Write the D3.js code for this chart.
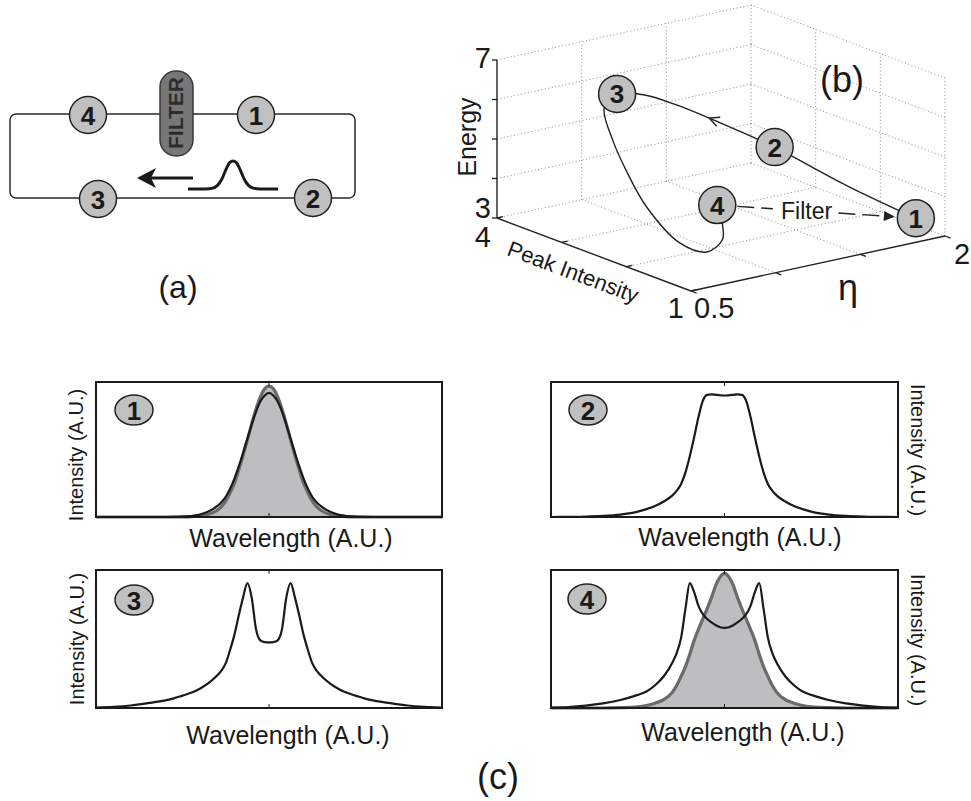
<!DOCTYPE html>
<html>
<head>
<meta charset="utf-8">
<script src="https://cdn.jsdelivr.net/npm/d3@7"></script>
<style>
  body { margin: 0; background: #fff; }
  svg { display: block; }
  text { font-family: 'Liberation Sans', Arial, sans-serif; }
</style>
</head>
<body>
<svg id="fig" width="971" height="801"></svg>
<script>
// ---------- data ----------
// (a) pulse sketched inside the cavity
var pulseT = [-1, -0.6, -0.45, -0.35, -0.25, -0.15, -0.07, 0, 0.07, 0.15, 0.25, 0.35, 0.45, 0.6, 1]
var pulseA = [0, 0, 0.03, 0.12, 0.35, 0.72, 0.95, 1, 0.95, 0.72, 0.35, 0.12, 0.03, 0, 0]

// (b) round trip trajectory: eta, peak intensity, energy
var trajEta = [1.95, 1.70, 1.46, 1.29, 1.15, 1.04, 0.92, 0.77, 0.66, 0.61, 0.61, 0.62, 0.72, 0.85, 1.01, 1.05, 1.14]
var trajPI  = [1.32, 1.72, 2.22, 2.32, 2.42, 2.67, 2.82, 2.85, 2.76, 2.50, 2.27, 2.00, 1.75, 1.67, 1.85, 1.95, 2.27]
var trajEn  = [3.3, 4.1, 5.0, 5.5, 5.9, 6.2, 6.45, 6.6, 6.4, 5.8, 5.1, 4.4, 3.55, 3.25, 3.3, 3.55, 3.8]
var stations   = ['1', '2', '3', '4']
var stationEta = [1.95, 1.46, 0.77, 1.14]
var stationPI  = [1.32, 2.22, 2.85, 2.27]
var stationEn  = [3.3, 5.0, 6.6, 3.8]
var etaTicks = [0.5, 1, 1.5, 2]
var piTicks = [1, 2, 3, 4]
var enTicks = [3, 4, 5, 6, 7]

// (c) spectra, wavelength in A.U. (centre = 0)
var wl = [-1, -0.9, -0.8, -0.7, -0.6, -0.55, -0.5, -0.45, -0.4, -0.35, -0.3, -0.275, -0.25, -0.225, -0.2, -0.175, -0.15, -0.125, -0.1, -0.075, -0.05, -0.025,
  0, 0.025, 0.05, 0.075, 0.1, 0.125, 0.15, 0.175, 0.2, 0.225, 0.25, 0.275, 0.3, 0.35, 0.4, 0.45, 0.5, 0.55, 0.6, 0.7, 0.8, 0.9, 1]
var spec1 = [0, 0, 0, 0, 0, 0.001, 0.003, 0.007, 0.018, 0.04, 0.08, 0.11, 0.15, 0.21, 0.285, 0.375, 0.475, 0.58, 0.685, 0.78, 0.855, 0.90,
  0.92, 0.90, 0.855, 0.78, 0.685, 0.58, 0.475, 0.375, 0.285, 0.21, 0.15, 0.11, 0.08, 0.04, 0.018, 0.007, 0.003, 0.001, 0, 0, 0, 0, 0]
var spec1f = [0, 0, 0, 0, 0, 0, 0.001, 0.003, 0.008, 0.02, 0.05, 0.077, 0.12, 0.18, 0.25, 0.35, 0.455, 0.57, 0.69, 0.80, 0.89, 0.95,
  0.97, 0.95, 0.89, 0.80, 0.69, 0.57, 0.455, 0.35, 0.25, 0.18, 0.12, 0.077, 0.05, 0.02, 0.008, 0.003, 0.001, 0, 0, 0, 0, 0, 0]
var spec2 = [0, 0.001, 0.003, 0.008, 0.018, 0.027, 0.04, 0.058, 0.082, 0.115, 0.16, 0.195, 0.245, 0.33, 0.45, 0.59, 0.74, 0.86, 0.905, 0.908, 0.905, 0.902,
  0.90, 0.902, 0.905, 0.908, 0.905, 0.86, 0.74, 0.59, 0.45, 0.33, 0.245, 0.195, 0.16, 0.115, 0.082, 0.058, 0.04, 0.027, 0.018, 0.008, 0.003, 0.001, 0]
var spec3 = [0.003, 0.008, 0.018, 0.035, 0.055, 0.07, 0.09, 0.11, 0.14, 0.18, 0.235, 0.27, 0.325, 0.42, 0.53, 0.67, 0.80, 0.905, 0.80, 0.57, 0.49, 0.477,
  0.475, 0.477, 0.49, 0.57, 0.80, 0.905, 0.80, 0.67, 0.53, 0.42, 0.325, 0.27, 0.235, 0.18, 0.14, 0.11, 0.09, 0.07, 0.055, 0.035, 0.018, 0.008, 0.003]
var spec4 = [0.003, 0.007, 0.017, 0.033, 0.058, 0.075, 0.095, 0.12, 0.165, 0.23, 0.33, 0.40, 0.51, 0.72, 0.905, 0.84, 0.74, 0.68, 0.645, 0.62, 0.60, 0.585,
  0.58, 0.585, 0.60, 0.62, 0.645, 0.68, 0.74, 0.84, 0.905, 0.72, 0.51, 0.40, 0.33, 0.23, 0.165, 0.12, 0.095, 0.075, 0.058, 0.033, 0.017, 0.007, 0.003]
var spec4f = [0, 0, 0, 0, 0.002, 0.004, 0.008, 0.018, 0.035, 0.06, 0.115, 0.165, 0.23, 0.30, 0.39, 0.49, 0.57, 0.645, 0.72, 0.80, 0.89, 0.95,
  0.975, 0.95, 0.89, 0.80, 0.72, 0.645, 0.57, 0.49, 0.39, 0.30, 0.23, 0.165, 0.115, 0.06, 0.035, 0.018, 0.008, 0.004, 0.002, 0, 0, 0, 0]

// ---------- drawing ----------
var svg = d3.select('#fig')
svg.append('rect').attr('width', 971).attr('height', 801).attr('fill', '#fff')

var CIRC_FILL = '#c0c0c0'

function badge(g, x, y, label, rx, ry) {
    g.append('ellipse').attr('cx', x).attr('cy', y).attr('rx', rx).attr('ry', ry)
        .attr('fill', CIRC_FILL).attr('stroke', '#222').attr('stroke-width', 1.5)
    g.append('text').attr('x', x).attr('y', y + 9.5).attr('text-anchor', 'middle')
        .attr('font-size', 26).attr('font-weight', 'bold').attr('fill', '#1a1a1a').text(label)
}

// ===== (a) cavity sketch =====
var ga = svg.append('g')
ga.append('rect').attr('x', 10).attr('y', 114).attr('width', 345).attr('height', 84).attr('rx', 6)
    .attr('fill', 'none').attr('stroke', '#2a2a2a').attr('stroke-width', 1.5)

// filter
ga.append('rect').attr('x', 160).attr('y', 71).attr('width', 33).attr('height', 85).attr('rx', 16)
    .attr('fill', '#777').attr('stroke', '#3a3a3a').attr('stroke-width', 1.5)
ga.append('text').attr('transform', 'translate(183,113) rotate(-90)').attr('text-anchor', 'middle')
    .attr('font-size', 21).attr('font-weight', 'bold').attr('fill', '#2b2b2b').text('FILTER')

// pulse + direction arrow
var pxS = d3.scaleLinear().domain([-1, 1]).range([188, 278])
var pyS = d3.scaleLinear().domain([0, 1]).range([189, 161])
ga.append('path')
    .attr('d', d3.line().x((d, i) => pxS(pulseT[i])).y(d => pyS(d)).curve(d3.curveMonotoneX)(pulseA))
    .attr('fill', 'none').attr('stroke', '#1a1a1a').attr('stroke-width', 3)
ga.append('line').attr('x1', 150).attr('y1', 178).attr('x2', 193).attr('y2', 178)
    .attr('stroke', '#1a1a1a').attr('stroke-width', 3)
ga.append('path').attr('d', 'M137,178 L156,168 L151,178 L156,188 Z').attr('fill', '#1a1a1a')

var nodesA = [['4', 88, 115], ['1', 256, 115], ['3', 98, 199], ['2', 313, 198]]
nodesA.forEach(n => badge(ga, n[1], n[2], n[0], 18.5, 18.5))

ga.append('text').attr('x', 178).attr('y', 298).attr('text-anchor', 'middle')
    .attr('font-size', 32).attr('fill', '#1a1a1a').text('(a)')

// ===== (b) 3-D trajectory =====
var gb = svg.append('g')
var etaS = d3.scaleLinear().domain([0.5, 2]).range([0, 1])
var piS = d3.scaleLinear().domain([1, 4]).range([0, 1])
var enS = d3.scaleLinear().domain([3, 7]).range([0, 1])
var O = [691, 291], vEta = [254, -55], vPI = [-194, -73], vEn = [0, -158]
function proj(e, p, n) {
    var a = etaS(e), b = piS(p), c = enS(n)
    return [O[0] + a * vEta[0] + b * vPI[0] + c * vEn[0],
            O[1] + a * vEta[1] + b * vPI[1] + c * vEn[1]]
}

var grid = []
enTicks.forEach(n => {
    grid.push([proj(0.5, 4, n), proj(2, 4, n)])
    grid.push([proj(2, 4, n), proj(2, 1, n)])
})
etaTicks.slice(1).forEach(e => grid.push([proj(e, 4, 3), proj(e, 4, 7)]))
piTicks.slice(0, 3).forEach(p => grid.push([proj(2, p, 3), proj(2, p, 7)]))
etaTicks.slice(1, 3).forEach(e => grid.push([proj(e, 1, 3), proj(e, 4, 3)]))
piTicks.slice(1, 3).forEach(p => grid.push([proj(0.5, p, 3), proj(2, p, 3)]))
gb.selectAll('.grid').data(grid).enter().append('line').attr('class', 'grid')
    .attr('x1', d => d[0][0]).attr('y1', d => d[0][1]).attr('x2', d => d[1][0]).attr('y2', d => d[1][1])
    .attr('stroke', '#8a8a8a').attr('stroke-width', 1).attr('stroke-dasharray', '1,2.5')

// axes
var axes = [[proj(0.5, 4, 3), proj(0.5, 4, 7)], [proj(0.5, 4, 3), proj(0.5, 1, 3)], [proj(0.5, 1, 3), proj(2, 1, 3)]]
gb.selectAll('.ax').data(axes).enter().append('line').attr('class', 'ax')
    .attr('x1', d => d[0][0]).attr('y1', d => d[0][1]).attr('x2', d => d[1][0]).attr('y2', d => d[1][1])
    .attr('stroke', '#222').attr('stroke-width', 1.4)
var ticks = []
enTicks.forEach(n => { var p = proj(0.5, 4, n); ticks.push([p, [p[0] - 5, p[1]]]) })
piTicks.forEach(v => { var p = proj(0.5, v, 3); ticks.push([p, [p[0] + 6, p[1] - 1.3]]) })
etaTicks.forEach(v => { var p = proj(v, 1, 3); ticks.push([p, [p[0] + 5.6, p[1] + 2.1]]) })
gb.selectAll('.tk').data(ticks).enter().append('line').attr('class', 'tk')
    .attr('x1', d => d[0][0]).attr('y1', d => d[0][1]).attr('x2', d => d[1][0]).attr('y2', d => d[1][1])
    .attr('stroke', '#222').attr('stroke-width', 1.3)

// tick labels (only the ends are labelled)
function tl(p, dx, dy, s, anchor) {
    gb.append('text').attr('x', p[0] + dx).attr('y', p[1] + dy).attr('text-anchor', anchor)
        .attr('font-size', 29).attr('fill', '#1a1a1a').text(s)
}
tl(proj(0.5, 4, 7), -6, 8, enTicks[4], 'end')
tl(proj(0.5, 4, 3), -6, 0, enTicks[0], 'end')
tl(proj(0.5, 4, 3), -6, 29, piTicks[3], 'end')
tl(proj(0.5, 1, 3), -7, 27, piTicks[0], 'end')
tl(proj(0.5, 1, 3), 3, 27, etaTicks[0], 'start')
tl(proj(2, 1, 3), 9, 28, etaTicks[3], 'start')

gb.append('text').attr('transform', 'translate(476,137) rotate(-90)').attr('text-anchor', 'middle')
    .attr('font-size', 25).attr('fill', '#1a1a1a').text('Energy')
gb.append('text').attr('transform', 'translate(573,272) rotate(20.6)').attr('text-anchor', 'middle')
    .attr('dominant-baseline', 'central').attr('font-size', 22).attr('fill', '#1a1a1a').text('Peak Intensity')
gb.append('text').attr('x', 848).attr('y', 300).attr('text-anchor', 'middle')
    .attr('font-size', 36).attr('fill', '#1a1a1a').text('η')
gb.append('text').attr('x', 842).attr('y', 92).attr('text-anchor', 'middle')
    .attr('font-size', 36).attr('fill', '#1a1a1a').text('(b)')

// trajectory
var trajPts = trajEta.map((e, i) => proj(e, trajPI[i], trajEn[i]))
gb.append('path').attr('d', d3.line().curve(d3.curveCatmullRom.alpha(0.5))(trajPts))
    .attr('fill', 'none').attr('stroke', '#222').attr('stroke-width', 1.4)
// direction chevron on the 2 -> 3 leg
var tip = trajPts[4], nx = trajPts[5]
var ang = Math.atan2(nx[1] - tip[1], nx[0] - tip[0])
var wing = s => [tip[0] - 11 * Math.cos(ang + s), tip[1] - 11 * Math.sin(ang + s)]
gb.append('path').attr('d', d3.line()([wing(0.45), tip, wing(-0.45)]))
    .attr('fill', 'none').attr('stroke', '#222').attr('stroke-width', 1.4)

// filter jump 4 -> 1
var A = proj(stationEta[3], stationPI[3], stationEn[3]), B = proj(stationEta[0], stationPI[0], stationEn[0])
var L = Math.hypot(B[0] - A[0], B[1] - A[1]), ux = (B[0] - A[0]) / L, uy = (B[1] - A[1]) / L
var at = t => [A[0] + ux * t, A[1] + uy * t]
var segs = [[at(20), at(0.28 * L)], [at(0.61 * L), at(L - 30)]]
gb.selectAll('.fl').data(segs).enter().append('line').attr('class', 'fl')
    .attr('x1', d => d[0][0]).attr('y1', d => d[0][1]).attr('x2', d => d[1][0]).attr('y2', d => d[1][1])
    .attr('stroke', '#222').attr('stroke-width', 1.4).attr('stroke-dasharray', '17,7')
var tp = at(L - 21), bp = at(L - 32)
gb.append('path').attr('d', 'M' + tp + 'L' + [bp[0] - uy * 5, bp[1] + ux * 5] + 'L' + [bp[0] + uy * 5, bp[1] - ux * 5] + 'Z')
    .attr('fill', '#222')
var mid = at(0.45 * L)
gb.append('text').attr('x', mid[0]).attr('y', mid[1]).attr('text-anchor', 'middle').attr('dominant-baseline', 'central')
    .attr('font-size', 23).attr('fill', '#1a1a1a').text('Filter')

stations.forEach((s, i) => {
    var p = proj(stationEta[i], stationPI[i], stationEn[i])
    badge(gb, p[0], p[1], s, 18.5, 18.5)
})

// ===== (c) spectra =====
var panelsC = [
    { x0: 96, x1: 442, y0: 382, y1: 517, lab: '1', bx: 134, by: 410, wx: 291, wy: 547, side: 'left', ix: 83, iy: 455, curves: [spec1f, spec1] },
    { x0: 551, x1: 898, y0: 382, y1: 517, lab: '2', bx: 588, by: 410, wx: 740, wy: 546, side: 'right', ix: 911, iy: 450, curves: [null, spec2] },
    { x0: 96, x1: 442, y0: 570, y1: 708, lab: '3', bx: 134, by: 600, wx: 288, wy: 744, side: 'left', ix: 84, iy: 639, curves: [null, spec3] },
    { x0: 551, x1: 898, y0: 570, y1: 708, lab: '4', bx: 587, by: 599, wx: 743, wy: 741, side: 'right', ix: 911, iy: 640, curves: [spec4f, spec4] }
]

panelsC.forEach(pc => {
    var g = svg.append('g')
    var x = d3.scaleLinear().domain([-1, 1]).range([pc.x0, pc.x1])
    var y = d3.scaleLinear().domain([0, 1]).range([pc.y1, pc.y0])
    var filt = pc.curves[0], main = pc.curves[1]
    if (filt) {
        g.append('path').attr('d', d3.area().x((d, i) => x(wl[i])).y0(y(0)).y1(d => y(d)).curve(d3.curveMonotoneX)(filt))
            .attr('fill', '#bdbec0')
        g.append('path').attr('d', d3.line().x((d, i) => x(wl[i])).y(d => y(d)).curve(d3.curveMonotoneX)(filt))
            .attr('fill', 'none').attr('stroke', '#6a6a6a').attr('stroke-width', 3.2)
    }
    g.append('path').attr('d', d3.line().x((d, i) => x(wl[i])).y(d => y(d)).curve(d3.curveMonotoneX)(main))
        .attr('fill', 'none').attr('stroke', '#1a1a1a').attr('stroke-width', 2.2)

    g.append('rect').attr('x', pc.x0).attr('y', pc.y0).attr('width', pc.x1 - pc.x0).attr('height', pc.y1 - pc.y0)
        .attr('fill', 'none').attr('stroke', '#1a1a1a').attr('stroke-width', 2)
    g.append('line').attr('x1', x(0)).attr('x2', x(0)).attr('y1', pc.y0).attr('y2', pc.y0 + 4).attr('stroke', '#1a1a1a')
    g.append('line').attr('x1', x(0)).attr('x2', x(0)).attr('y1', pc.y1).attr('y2', pc.y1 - 4).attr('stroke', '#1a1a1a')

    badge(g, pc.bx, pc.by, pc.lab, 19, 15)

    g.append('text').attr('x', pc.wx).attr('y', pc.wy).attr('text-anchor', 'middle')
        .attr('font-size', 25).attr('fill', '#1a1a1a').text('Wavelength (A.U.)')
    g.append('text').attr('transform', 'translate(' + pc.ix + ',' + pc.iy + ') rotate(' + (pc.side === 'left' ? -90 : 90) + ')')
        .attr('text-anchor', 'middle').attr('font-size', 20).attr('fill', '#1a1a1a').text('Intensity (A.U.)')
})

svg.append('text').attr('x', 498).attr('y', 789).attr('text-anchor', 'middle')
    .attr('font-size', 36).attr('fill', '#1a1a1a').text('(c)')
</script>
</body>
</html>
